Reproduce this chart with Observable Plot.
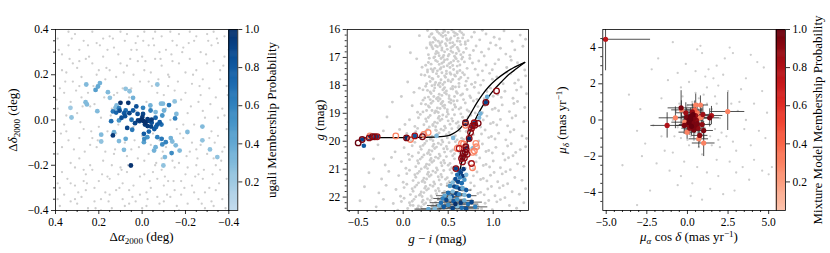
<!DOCTYPE html>
<html><head><meta charset="utf-8">
<script src="https://cdn.jsdelivr.net/npm/d3@7"></script>
<script src="https://cdn.jsdelivr.net/npm/@observablehq/plot@0.6"></script>
<style>
body{margin:0;background:#fff;}
#chart{position:relative;width:830px;height:253px;font-family:"Liberation Serif",serif;color:#000;overflow:hidden;}
#chart svg{position:absolute;left:0;top:0;font-family:"Liberation Serif",serif !important;}
#chart svg text{font-family:"Liberation Serif",serif;}
.lab{position:absolute;font-size:13px;white-space:nowrap;line-height:1;}
.hor{transform:translate(-50%,-50%);}
.rot{transform:translate(-50%,-50%) rotate(-90deg);}
.sb{font-size:0.7em;vertical-align:-0.3em;}
.sp{font-size:0.7em;vertical-align:0.45em;}
</style></head>
<body><div id="chart"></div>
<script>
// ---------------- DATA ----------------
// Panel 1: spatial distribution (Δα, Δδ in deg)
const p1Grey = [
0.39,0.36,0.37,0.29,0.35,0.21,0.38,0.14,0.33,0.08,0.36,-0.02,0.34,-0.09,0.39,-0.15,0.37,-0.23,0.33,-0.28,0.36,-0.33,0.38,-0.38,0.34,0.33,0.32,0.25,0.39,0.05,0.35,-0.05,0.33,-0.19,0.38,-0.3,0.36,0.12,0.34,0.39,0.37,-0.12,0.32,0.17,0.39,-0.35,0.35,0.02,0.33,-0.36,
0.31,0.38,0.29,0.31,0.26,0.27,0.28,0.19,0.25,0.12,0.3,0.03,0.27,-0.04,0.24,-0.11,0.29,-0.17,0.26,-0.24,0.31,-0.29,0.28,-0.34,0.25,-0.39,0.3,0.23,0.27,0.35,0.24,0.06,0.29,-0.08,0.31,-0.21,0.26,-0.31,0.28,0.1,0.3,-0.37,0.25,0.33,0.27,-0.27,0.29,0.15,0.24,-0.2,
0.23,0.39,0.21,0.34,0.18,0.28,0.2,0.22,0.17,0.18,0.22,0.07,0.19,0.01,0.16,-0.05,0.21,-0.12,0.18,-0.18,0.23,-0.22,0.2,-0.27,0.17,-0.32,0.22,-0.36,0.19,-0.4,0.16,0.31,0.23,0.25,0.2,-0.03,0.17,-0.14,0.22,-0.3,0.18,0.36,0.21,0.2,0.16,-0.25,0.23,-0.08,0.19,-0.35,
0.15,0.37,0.13,0.32,0.1,0.25,0.12,0.19,0.09,0.14,0.14,0.05,0.11,-0.02,0.08,-0.1,0.13,-0.15,0.1,-0.21,0.15,-0.26,0.12,-0.31,0.09,-0.35,0.14,-0.39,0.11,0.29,0.08,0.35,0.15,0.22,0.12,-0.06,0.09,-0.28,0.14,-0.2,0.1,0.39,0.13,0.11,0.08,-0.38,0.15,-0.33,0.11,-0.24,
0.07,0.38,0.05,0.31,0.02,0.26,0.04,0.2,0.01,0.17,0.06,0.1,0.03,0.04,0.0,-0.07,0.05,-0.13,0.02,-0.17,0.07,-0.23,0.04,-0.29,0.01,-0.33,0.06,-0.37,0.03,0.34,0.0,0.28,0.07,0.24,0.04,-0.03,0.01,-0.25,0.06,-0.31,0.02,0.37,0.05,0.14,0.0,-0.39,0.07,-0.16,0.03,-0.36,
-0.01,0.39,-0.03,0.33,-0.06,0.27,-0.04,0.21,-0.07,0.12,-0.02,0.08,-0.05,-0.06,-0.08,-0.09,-0.03,-0.15,-0.06,-0.2,-0.01,-0.24,-0.04,-0.3,-0.07,-0.34,-0.02,-0.38,-0.05,0.36,-0.08,0.3,-0.01,0.22,-0.04,-0.11,-0.07,-0.26,-0.02,-0.32,-0.06,0.39,-0.03,0.17,-0.08,-0.37,-0.01,-0.18,-0.05,-0.23,
-0.09,0.37,-0.11,0.31,-0.14,0.26,-0.12,0.2,-0.15,0.13,-0.1,0.11,-0.13,0.0,-0.16,-0.04,-0.11,-0.12,-0.14,-0.18,-0.09,-0.22,-0.12,-0.27,-0.15,-0.31,-0.1,-0.36,-0.13,0.39,-0.16,0.33,-0.09,0.24,-0.12,0.15,-0.15,-0.21,-0.1,-0.29,-0.14,0.35,-0.11,0.05,-0.16,-0.38,-0.09,-0.17,-0.13,-0.34,
-0.17,0.38,-0.19,0.32,-0.22,0.27,-0.2,0.21,-0.23,0.16,-0.18,0.09,-0.21,0.03,-0.24,-0.02,-0.19,-0.08,-0.22,-0.14,-0.17,-0.19,-0.2,-0.24,-0.23,-0.29,-0.18,-0.33,-0.21,-0.37,-0.24,0.35,-0.17,0.25,-0.2,0.12,-0.23,-0.1,-0.18,-0.27,-0.22,0.39,-0.19,-0.02,-0.24,-0.32,-0.17,-0.4,-0.21,-0.21,
-0.25,0.37,-0.27,0.3,-0.3,0.25,-0.28,0.18,-0.31,0.14,-0.26,0.08,-0.29,0.01,-0.32,-0.05,-0.27,-0.11,-0.3,-0.15,-0.25,-0.2,-0.28,-0.26,-0.31,-0.3,-0.26,-0.35,-0.29,-0.39,-0.32,0.33,-0.25,0.22,-0.28,0.04,-0.31,-0.08,-0.26,-0.24,-0.3,0.38,-0.27,0.11,-0.32,-0.36,-0.25,-0.13,-0.29,-0.32,
-0.33,0.39,-0.35,0.34,-0.38,0.28,-0.36,0.22,-0.39,0.15,-0.34,0.1,-0.37,0.05,-0.4,-0.01,-0.35,-0.07,-0.38,-0.12,-0.33,-0.17,-0.36,-0.22,-0.39,-0.26,-0.34,-0.31,-0.37,-0.35,-0.4,0.31,-0.33,0.26,-0.36,0.18,-0.39,-0.04,-0.34,-0.2,-0.38,0.37,-0.35,0.01,-0.4,-0.33,-0.33,-0.38,-0.37,-0.14,
0.385,0.31,0.355,0.17,0.375,-0.06,0.345,-0.26,0.395,0.09,0.325,0.36,0.305,0.13,0.285,-0.01,0.265,-0.14,0.295,-0.32,0.245,0.28,0.225,0.15,0.205,-0.09,0.185,-0.24,0.215,-0.39,0.165,0.23,0.145,0.02,0.125,-0.13,0.105,-0.3,0.135,0.36,
0.085,0.21,0.065,-0.2,0.045,-0.34,0.025,0.31,0.015,-0.12,-0.015,0.26,-0.035,-0.27,-0.055,0.33,-0.075,0.18,-0.095,-0.14,-0.115,-0.33,-0.135,0.29,-0.155,0.08,-0.175,-0.06,-0.195,-0.3,-0.215,0.34,-0.235,0.2,-0.255,-0.17,-0.275,-0.37,-0.295,0.29,
-0.315,0.07,-0.335,-0.1,-0.355,-0.28,-0.375,0.24,-0.395,0.11,-0.345,0.36,-0.365,-0.18,-0.325,-0.24,-0.385,-0.39,0.315,-0.13,0.335,0.27,0.275,0.06,0.255,-0.28,0.235,-0.05,0.195,0.33,0.175,0.1,0.155,-0.36,0.115,0.12,0.095,-0.22,0.055,0.27,
0.035,-0.09,-0.005,0.35,-0.025,-0.35,-0.045,0.15,-0.065,-0.19,-0.085,0.27,-0.105,-0.25,-0.125,0.19,-0.145,-0.27,-0.165,0.17,-0.185,0.3,-0.205,-0.16,-0.225,0.06,-0.245,-0.25,-0.265,0.15,-0.285,-0.22,-0.305,0.35,-0.38,0.02,0.39,-0.28,0.37,0.22,0.31,-0.35,0.29,0.26,0.27,-0.22
];
// ugali members: x, y, probability
const p1Members = [
0.258,0.157,0.3, 0.215,0.133,0.45, 0.204,0.148,0.4, 0.195,0.163,0.35, 0.158,0.123,0.3, 0.149,0.098,0.25, 0.076,0.138,0.25, 0.058,0.127,0.25, 0.042,0.098,0.35, 0.261,0.079,0.3,
0.255,0.069,0.3, 0.331,0.054,0.2, 0.326,0.011,0.25, 0.207,0.039,0.3, 0.1,0.076,1.0, 0.064,0.076,0.98, 0.118,0.064,0.3, 0.107,0.052,0.6, 0.135,0.038,0.65, 0.12,0.033,0.75,
0.104,0.041,0.85, 0.083,0.03,0.8, 0.143,-0.005,0.7, 0.107,-0.002,0.5, 0.095,0.01,0.85, 0.079,0.017,0.85, 0.059,0.03,0.9, 0.042,0.042,0.8, 0.027,0.06,0.85, 0.021,0.027,0.85,
0.012,-0.005,0.9, -0.004,0.054,0.6, -0.038,0.064,0.35, -0.039,0.042,0.6, 0.033,-0.014,0.9, 0.019,-0.002,0.95, -0.001,0.013,0.95, 0.004,0.001,1.0, -0.007,-0.005,1.0, -0.016,-0.011,1.0,
-0.025,0.004,0.95, -0.013,-0.02,0.95, -0.025,-0.027,0.95, -0.033,-0.004,0.9, -0.044,-0.012,0.85, -0.041,-0.029,0.9, -0.062,0.01,0.75, -0.07,-0.02,0.8, -0.081,-0.01,0.8, -0.089,-0.02,0.7,
-0.056,-0.04,0.8, -0.064,-0.031,0.75, -0.062,0.035,0.3, -0.087,0.072,0.3, -0.096,0.072,0.3, -0.124,0.066,0.65, -0.101,0.042,0.35, -0.15,0.082,0.25, -0.158,0.027,0.3, -0.152,0.007,0.6,
0.046,-0.043,0.65, -0.008,-0.061,0.8, -0.01,-0.083,0.55, -0.008,-0.098,0.45, -0.024,-0.076,0.5, 0.135,-0.068,0.95, 0.13,-0.054,0.35, 0.189,-0.065,0.3, 0.189,-0.095,0.25, 0.076,-0.083,0.4,
0.084,-0.132,0.3, 0.107,-0.093,0.3, -0.07,-0.076,0.6, -0.09,-0.083,0.65, -0.109,-0.098,0.6, -0.093,-0.108,0.55, -0.062,-0.12,0.35, -0.055,-0.135,0.35, -0.132,-0.08,0.35, -0.139,-0.095,0.3,
-0.155,-0.112,0.3, -0.173,-0.135,0.3, -0.136,-0.146,0.55, -0.105,-0.164,0.3, -0.098,-0.201,0.25, -0.209,-0.053,0.3, -0.278,-0.029,0.3, -0.278,-0.09,0.25, -0.313,-0.13,0.25, -0.347,-0.164,0.25,
0.052,-0.201,0.98, -0.031,-0.051,0.75, -0.044,0.002,0.95, -0.004,0.027,0.9, 0.049,0.001,0.7, 0.069,-0.035,0.9, 0.123,0.054,0.3, 0.076,0.042,0.7, -0.093,0.02,0.5, -0.07,0.157,0.25
];

// Panel 2: colour-magnitude diagram (g-i, g)
const p2Grey = [
0.27,16.04,0.34,16.29,0.31,16.17,0.43,16.44,0.38,16.08,0.47,16.21,0.52,16.36,0.41,16.49,0.58,16.13,0.45,16.02,0.61,16.31,0.36,16.38,0.5,16.11,0.55,16.47,0.67,16.19,0.72,16.4,0.63,16.06,0.29,16.26,0.48,16.33,0.57,16.23,0.79,16.1,0.85,16.37,0.69,16.45,0.92,16.16,1.01,16.28,1.12,16.05,1.21,16.42,1.3,16.2,0.4,16.14,0.54,16.01,0.33,16.46,0.6,16.41,0.76,16.27,0.97,16.48,1.07,16.34,0.44,16.25,0.65,16.12,0.88,16.03,0.18,16.22,1.36,16.35,
0.3,16.52,0.37,16.79,0.26,16.66,0.45,16.93,0.41,16.57,0.49,16.71,0.35,16.98,0.55,16.61,0.59,16.86,0.43,16.74,0.64,16.54,0.51,16.89,0.32,16.63,0.57,16.96,0.7,16.68,0.39,16.84,0.47,16.51,0.62,16.77,0.74,16.92,0.81,16.59,0.53,16.65,0.87,16.81,0.95,16.7,0.66,16.99,1.03,16.56,1.14,16.88,1.24,16.73,1.33,16.6,0.28,16.9,0.46,16.8,0.6,16.64,0.78,16.75,0.9,16.95,1.08,16.67,0.08,16.83,0.36,16.58,0.69,16.53,1.19,16.97,-0.15,16.62,
0.29,17.03,0.25,17.28,0.38,17.15,0.33,17.46,0.46,17.09,0.42,17.37,0.51,17.22,0.56,17.43,0.36,17.11,0.6,17.31,0.48,17.49,0.65,17.06,0.53,17.18,0.71,17.39,0.4,17.25,0.58,17.01,0.77,17.2,0.31,17.41,0.63,17.47,0.84,17.13,0.45,17.33,0.92,17.27,0.99,17.44,0.68,17.16,1.06,17.08,1.15,17.36,1.27,17.19,1.35,17.45,0.55,17.29,0.74,17.04,0.88,17.48,1.2,17.1,0.21,17.35,0.43,17.21,0.61,17.14,1.02,17.23,0.15,17.05,0.8,17.42,
0.27,17.52,0.33,17.77,0.24,17.64,0.41,17.91,0.37,17.58,0.47,17.71,0.44,17.97,0.53,17.6,0.5,17.84,0.58,17.67,0.62,17.93,0.3,17.86,0.66,17.55,0.55,17.79,0.72,17.74,0.39,17.68,0.76,17.96,0.6,17.51,0.83,17.63,0.46,17.89,0.89,17.82,0.96,17.57,0.7,17.85,1.04,17.7,1.11,17.94,1.19,17.59,1.28,17.81,1.36,17.66,0.35,17.98,0.52,17.55,0.64,17.72,0.8,17.9,0.99,17.78,1.15,17.53,0.2,17.62,0.05,17.88,0.42,17.8,0.68,17.62,0.86,17.99,1.24,17.92,
0.25,18.03,0.31,18.29,0.22,18.16,0.38,18.45,0.35,18.09,0.43,18.36,0.48,18.2,0.41,18.49,0.53,18.12,0.57,18.4,0.46,18.26,0.62,18.05,0.28,18.42,0.66,18.31,0.51,18.47,0.71,18.15,0.59,18.23,0.75,18.44,0.34,18.19,0.79,18.07,0.64,18.35,0.84,18.27,0.9,18.48,0.97,18.1,0.69,18.01,1.05,18.33,1.13,18.21,1.22,18.46,1.31,18.06,1.37,18.3,0.4,18.32,0.55,18.04,0.74,18.38,0.93,18.22,1.09,18.43,1.26,18.17,0.12,18.25,0.45,18.13,0.82,18.5,1.0,18.39,-0.02,18.4,0.18,18.1,
0.22,18.53,0.29,18.78,0.2,18.66,0.36,18.92,0.33,18.57,0.41,18.83,0.46,18.71,0.39,18.97,0.51,18.6,0.55,18.87,0.44,18.74,0.6,18.55,0.26,18.9,0.64,18.8,0.49,18.95,0.69,18.63,0.57,18.69,0.73,18.93,0.31,18.64,0.78,18.56,0.62,18.85,0.83,18.76,0.88,18.98,0.95,18.59,0.67,18.51,1.02,18.82,1.1,18.7,1.18,18.94,1.27,18.58,1.35,18.79,0.38,18.81,0.53,18.52,0.71,18.88,0.91,18.72,1.06,18.91,1.23,18.65,0.1,18.73,0.43,18.62,0.8,18.99,0.99,18.86,-0.12,18.6,0.16,18.96,0.58,18.77,
0.19,19.04,0.26,19.29,0.17,19.16,0.33,19.44,0.3,19.08,0.38,19.35,0.43,19.21,0.36,19.48,0.48,19.12,0.52,19.39,0.41,19.26,0.57,19.05,0.23,19.41,0.61,19.31,0.46,19.46,0.66,19.14,0.54,19.19,0.7,19.43,0.28,19.15,0.75,19.07,0.59,19.36,0.81,19.27,0.86,19.49,0.93,19.1,0.64,19.02,1.0,19.33,1.08,19.22,1.16,19.45,1.25,19.09,1.34,19.3,0.35,19.32,0.5,19.03,0.68,19.38,0.89,19.24,1.04,19.42,1.21,19.17,0.07,19.23,0.4,19.11,0.78,19.47,0.97,19.37,-0.18,19.13,0.13,19.47,0.55,19.28,0.02,19.4,
0.16,19.54,0.23,19.79,0.14,19.66,0.3,19.93,0.27,19.57,0.35,19.84,0.4,19.7,0.33,19.98,0.45,19.61,0.49,19.88,0.38,19.75,0.54,19.55,0.2,19.91,0.58,19.8,0.43,19.96,0.63,19.63,0.51,19.69,0.67,19.94,0.25,19.64,0.72,19.56,0.56,19.86,0.78,19.77,0.84,19.99,0.91,19.6,0.61,19.52,0.98,19.83,1.06,19.71,1.14,19.95,1.23,19.59,1.32,19.81,0.32,19.82,0.47,19.53,0.65,19.89,0.87,19.74,1.02,19.92,1.19,19.67,0.04,19.72,0.37,19.62,0.75,19.97,0.95,19.87,-0.22,19.63,0.09,19.98,0.52,19.78,-0.04,19.58,1.37,19.9,
0.13,20.04,0.2,20.29,0.1,20.16,0.27,20.44,0.24,20.08,0.32,20.35,0.37,20.21,0.3,20.48,0.42,20.12,0.46,20.39,0.35,20.26,0.51,20.05,0.17,20.41,0.55,20.31,0.4,20.46,0.6,20.14,0.48,20.19,0.64,20.43,0.22,20.15,0.69,20.07,0.53,20.36,0.75,20.27,0.81,20.49,0.88,20.1,0.58,20.02,0.95,20.33,1.03,20.22,1.11,20.45,1.2,20.09,1.3,20.3,0.29,20.32,0.44,20.03,0.62,20.38,0.84,20.24,0.99,20.42,1.16,20.17,0.01,20.23,0.34,20.11,0.72,20.47,0.92,20.37,-0.28,20.13,0.06,20.47,0.49,20.28,-0.09,20.38,1.36,20.2,1.25,20.4,
0.1,20.54,0.17,20.79,0.07,20.66,0.24,20.93,0.21,20.57,0.29,20.84,0.34,20.7,0.27,20.98,0.39,20.61,0.43,20.88,0.32,20.75,0.48,20.55,0.14,20.91,0.52,20.8,0.37,20.96,0.57,20.63,0.45,20.69,0.61,20.94,0.19,20.64,0.66,20.56,0.5,20.86,0.72,20.77,0.78,20.99,0.85,20.6,0.55,20.52,0.92,20.83,1.0,20.71,1.08,20.95,1.17,20.59,1.27,20.81,0.26,20.82,0.41,20.53,0.59,20.89,0.81,20.74,0.96,20.92,1.13,20.67,-0.02,20.73,0.31,20.62,0.69,20.97,0.89,20.87,-0.33,20.63,0.03,20.97,0.46,20.78,-0.13,20.58,1.34,20.9,1.22,20.52,-0.2,20.85,
0.07,21.04,0.14,21.29,0.04,21.16,0.21,21.44,0.18,21.08,0.26,21.35,0.31,21.21,0.24,21.48,0.36,21.12,0.4,21.39,0.29,21.26,0.45,21.05,0.11,21.41,0.49,21.31,0.34,21.46,0.54,21.14,0.42,21.19,0.58,21.43,0.16,21.15,0.63,21.07,0.47,21.36,0.69,21.27,0.75,21.49,0.82,21.1,0.52,21.02,0.89,21.33,0.97,21.22,1.05,21.45,1.14,21.09,1.24,21.3,0.23,21.32,0.38,21.03,0.56,21.38,0.78,21.24,0.93,21.42,1.1,21.17,-0.05,21.23,0.28,21.11,0.66,21.47,0.86,21.37,-0.38,21.13,0.0,21.47,0.43,21.28,-0.16,21.08,1.32,21.4,1.19,21.02,-0.24,21.35,1.01,21.12,
0.04,21.54,0.11,21.79,0.01,21.66,0.18,21.93,0.15,21.57,0.23,21.84,0.28,21.7,0.21,21.98,0.33,21.61,0.37,21.88,0.26,21.75,0.42,21.55,0.08,21.91,0.46,21.8,0.31,21.96,0.51,21.63,0.39,21.69,0.55,21.94,0.13,21.64,0.6,21.56,0.44,21.86,0.66,21.77,0.72,21.99,0.79,21.6,0.49,21.52,0.86,21.83,0.94,21.71,1.02,21.95,1.11,21.59,1.21,21.81,0.2,21.82,0.35,21.53,0.53,21.88,0.75,21.74,0.9,21.92,1.07,21.67,-0.08,21.73,0.25,21.62,0.63,21.97,0.83,21.87,-0.43,21.63,-0.03,21.97,0.4,21.78,-0.19,21.58,1.29,21.9,1.16,21.52,-0.27,21.85,0.98,21.62,1.36,21.7,
0.01,22.04,0.08,22.29,-0.02,22.16,0.15,22.44,0.12,22.08,0.2,22.35,0.25,22.21,0.18,22.46,0.3,22.12,0.34,22.39,0.23,22.26,0.39,22.05,0.05,22.41,0.43,22.31,0.28,22.45,0.48,22.14,0.36,22.19,0.52,22.43,0.1,22.15,0.57,22.07,0.41,22.36,0.63,22.27,0.69,22.47,0.76,22.1,0.46,22.02,0.83,22.33,0.91,22.22,0.99,22.45,1.08,22.09,1.18,22.3,0.17,22.32,0.32,22.03,0.5,22.38,0.72,22.24,0.87,22.42,1.04,22.17,-0.11,22.23,0.22,22.11,0.6,22.47,0.8,22.37,-0.48,22.13,-0.06,22.47,0.37,22.28,-0.22,22.08,1.26,22.4,1.13,22.02,-0.3,22.35,0.95,22.12,1.34,22.2,
0.32,16.15,0.39,16.42,0.46,16.06,0.53,16.3,0.6,16.18,0.35,16.33,0.42,16.2,0.49,16.39,0.56,16.09,0.63,16.43,0.3,16.47,0.52,16.48,0.66,16.3,0.44,16.12,0.37,16.02,
0.33,16.69,0.4,16.94,0.48,16.58,0.55,16.82,0.61,16.7,0.36,16.87,0.43,16.66,0.5,16.95,0.57,16.55,0.64,16.9,0.31,16.56,0.53,16.77,0.67,16.82,0.44,16.99,0.38,16.62,
0.28,17.18,0.35,17.39,0.42,17.04,0.49,17.3,0.56,17.12,0.31,17.24,0.38,17.48,0.45,17.16,0.52,17.36,0.59,17.05,0.27,17.45,0.49,17.07,0.63,17.27,0.41,17.42,0.34,17.01,
0.29,17.69,0.36,17.9,0.43,17.55,0.5,17.81,0.57,17.63,0.32,17.75,0.39,17.99,0.46,17.66,0.53,17.87,0.6,17.56,0.26,17.94,0.48,17.58,0.62,17.78,0.4,17.93,0.33,17.51,
0.27,18.18,0.34,18.4,0.41,18.05,0.48,18.31,0.55,18.13,0.3,18.24,0.37,18.48,0.44,18.16,0.51,18.37,0.58,18.06,0.24,18.45,0.46,18.08,0.6,18.28,0.39,18.43,0.32,18.01,
0.25,18.68,0.32,18.9,0.39,18.55,0.46,18.81,0.53,18.63,0.28,18.74,0.35,18.98,0.42,18.66,0.49,18.87,0.56,18.56,0.22,18.95,0.44,18.58,0.58,18.78,0.37,18.93,0.3,18.51,
0.25,19.2,0.33,19.4,0.44,19.06,0.5,19.27,0.62,19.45,0.72,19.13,0.29,19.49,0.39,19.18,0.22,19.7,0.31,19.9,0.42,19.57,0.48,19.77,0.6,19.95,0.7,19.65,0.26,19.99,0.36,19.6,
0.19,20.2,0.28,20.4,0.39,20.07,0.45,20.27,0.57,20.45,0.67,20.15,0.23,20.49,0.33,20.18,0.16,20.7,0.25,20.9,0.36,20.57,0.42,20.77,0.54,20.95,0.64,20.65,0.2,20.99,0.3,20.68,
0.13,21.2,0.22,21.4,0.33,21.07,0.39,21.27,0.51,21.45,0.61,21.15,0.17,21.49,0.27,21.18,0.1,21.7,0.19,21.9,0.3,21.57,0.36,21.77,0.48,21.95,0.58,21.65,0.14,21.99,0.24,21.68,
0.07,22.2,0.16,22.4,0.27,22.07,0.33,22.27,0.45,22.45,0.55,22.15,0.11,22.3,0.21,22.18
];
// isochrone branches (g-i, g)
const isoUpper = [-0.47,19.93, -0.42,19.88, -0.3,19.87, 0.0,19.87, 0.2,19.86, 0.35,19.85, 0.45,19.83, 0.52,19.78, 0.58,19.68, 0.63,19.55, 0.67,19.4, 0.71,19.22, 0.76,18.95, 0.82,18.62, 0.88,18.33, 0.95,18.05, 1.03,17.8, 1.12,17.58, 1.22,17.38, 1.35,17.18];
const isoLower = [0.62,21.3, 0.64,20.9, 0.67,20.5, 0.7,20.15, 0.73,19.8, 0.77,19.45, 0.82,19.1, 0.88,18.75, 0.94,18.45, 1.01,18.15, 1.09,17.88, 1.17,17.62, 1.26,17.4, 1.35,17.18];
// ugali members in CMD: g-i, g, probability, colour error
const p2Ugali = [
-0.437,20.16,0.8,0, -0.456,19.94,0.9,0, -0.378,19.88,0.95,0, -0.341,19.84,0.95,0, -0.315,19.84,0.9,0, -0.289,19.84,0.9,0, 0.037,19.88,1.0,0, 0.129,19.81,0.8,0, 0.37,19.81,0.3,0, 0.555,19.88,0.3,0,
0.692,19.34,1.0,0, 0.733,19.9,1.0,0, 0.789,19.34,0.8,0, 0.844,19.16,0.3,0, 0.859,19.01,0.35,0, 0.918,18.61,0.9,0, 0.933,18.41,0.4,0, 0.777,20.24,0.3,0, 0.696,20.2,0.95,0, 0.585,20.98,0.9,0, 0.77,19.45,0.9,0,
0.62,21.05,0.8,0, 0.64,21.12,0.9,0, 0.6,21.2,0.7,0, 0.66,21.25,0.95,0, 0.63,21.3,0.6,0, 0.58,21.35,0.85,0, 0.68,21.38,0.5,0, 0.61,21.45,0.9,0.03, 0.65,21.5,0.7,0.03, 0.55,21.48,0.3,0.03, 0.7,21.2,0.3,0, 0.67,21.0,0.95,0,
0.52,21.6,0.5,0.04, 0.57,21.62,0.9,0.04, 0.6,21.65,0.7,0.05, 0.63,21.7,0.95,0.05, 0.66,21.68,0.4,0.05, 0.7,21.75,0.8,0.06, 0.55,21.8,0.3,0.07, 0.5,21.85,0.7,0.07, 0.59,21.88,0.9,0.08, 0.62,21.9,0.6,0.08, 0.68,21.92,0.3,0.08, 0.73,21.95,0.8,0.09, 0.46,21.95,0.4,0.09, 0.54,21.98,0.85,0.09,
0.44,22.05,0.6,0.1, 0.48,22.1,0.9,0.1, 0.52,22.02,0.3,0.1, 0.56,22.15,0.8,0.11, 0.6,22.08,0.5,0.1, 0.64,22.2,0.95,0.12, 0.68,22.12,0.4,0.11, 0.72,22.25,0.7,0.12, 0.76,22.18,0.9,0.12, 0.4,22.3,0.35,0.13, 0.45,22.35,0.8,0.14, 0.5,22.28,0.55,0.13, 0.55,22.4,0.9,0.15, 0.6,22.33,0.3,0.14, 0.65,22.38,0.7,0.15, 0.7,22.42,0.85,0.15, 0.35,22.42,0.3,0.15, 0.28,22.43,0.4,0.15, 0.8,22.35,0.6,0.14, 0.58,22.25,1.0,0.12, 0.42,22.2,0.7,0.12
];
// mixture-model members in CMD: g-i, g, probability
const p2Mixture = [
-0.5,20.06,1.0, -0.456,19.94,0.95, -0.37,19.81,0.25, -0.378,19.88,0.9, -0.341,19.84,0.95, -0.315,19.84,0.9, -0.289,19.84,0.85, -0.082,19.81,0.3, 0.037,19.88,0.95, 0.081,19.94,0.3, 0.129,19.81,0.85, 0.214,19.84,0.95, 0.229,19.76,0.3, 0.277,19.69,0.25,
0.692,19.34,1.0, 0.692,19.43,0.3, 0.733,19.9,0.9, 0.748,19.69,0.9, 0.759,19.54,0.85, 0.77,19.45,0.9, 0.796,19.43,0.9, 0.833,19.36,0.95, 0.789,19.34,0.85, 0.918,18.61,0.95, 1.037,18.2,0.9, 0.696,20.2,0.9,
0.648,20.08,0.3, 0.6,20.26,0.3, 0.622,20.26,0.8, 0.67,20.1,0.3, 0.807,20.08,0.25, 0.814,20.2,0.25, 0.79,20.35,0.3, 0.77,20.4,0.25, 0.666,20.44,0.95, 0.689,20.4,0.9, 0.711,20.47,0.85, 0.648,20.62,0.9, 0.66,20.55,0.95, 0.659,20.74,0.9, 0.759,20.8,0.85, 0.77,20.95,0.3, 0.585,20.98,0.9, 0.7,20.3,0.95, 0.68,20.6,0.9
];

// Panel 3: proper motions (mas/yr)
const p3Grey = [
0.2,0.5,0.6,0.9,1.0,0.4,-0.3,0.2,0.9,-0.8,1.3,-0.2,0.4,-1.1,-0.1,-0.6,1.5,0.6,0.7,1.2,-0.6,-0.4,1.1,-1.3,0.3,1.0,1.7,-0.5,0.0,0.8,-0.4,-1.0,0.8,-0.3,1.2,0.9,0.5,-0.7,1.6,0.2,-0.2,-0.2,0.9,0.6,0.1,-1.4,1.4,-0.9,-0.7,0.5,0.6,0.3,1.8,0.9,0.4,-0.4,1.0,1.4,-0.5,0.9,1.9,-1.1,0.2,-0.9,0.7,-1.5,1.3,0.3,-0.8,-0.9,0.5,1.5,1.5,-1.4,0.0,-1.1,2.0,0.1,0.8,0.0,-0.3,1.3,1.1,-0.6,0.3,0.2,1.7,1.3,-0.1,0.4,0.9,-1.9,2.1,-0.7,0.6,-1.1,1.2,1.8,-0.9,0.0,
-0.9,4.3,0.6,3.9,0.9,3.7,-0.6,2.6,0.1,2.1,0.5,2.7,1.3,2.8,1.8,3.0,2.3,3.4,2.8,3.7,3.6,2.3,4.3,3.2,4.7,2.9,3.3,1.7,2.5,1.6,1.9,1.9,2.7,0.9,3.1,0.5,3.5,-0.5,4.4,-0.6,4.8,-1.0,3.9,-1.4,3.0,-1.7,2.6,-2.3,3.4,-2.6,4.1,-2.2,4.6,-2.8,5.0,-3.0,5.2,-2.6,3.8,-3.3,2.9,-3.9,2.2,-4.1,1.4,-3.8,0.9,-4.4,0.3,-3.5,-0.4,-3.1,-1.1,-2.8,-1.9,-2.4,-2.6,-1.3,-3.1,-0.6,-4.0,-2.5,-3.1,-4.7,-2.3,-3.9,-1.4,-1.7,-2.1,-0.3,-2.9,0.6,-1.6,1.2,-1.2,2.2,-2.2,2.8,-0.1,3.1,1.6,2.3,2.2,2.5,3.6,0.0,4.1,0.9,2.4,-0.9,1.8,-2.2,0.6,-2.6,-0.2,-2.3,-0.9,-1.8,-1.6,-0.9,2.8,-1.2,2.0,-1.5,3.2,1.0,4.6,1.6,1.2,-2.9,-0.6,-3.6,0.2,-4.2,1.9,-3.1,3.0,-2.9,-2.8,-2.0,-3.6,1.4,-1.8,3.4,0.8,4.1,2.6,4.0,3.9,3.6,4.9,0.4,-0.4,1.8,1.1,2.4
];
// mixture members: pmra, pmdec, probability, pmra error, pmdec error
const p3Members = [
-5.04,4.46,0.75,2.77,1.74, -0.39,0.67,0.95,0.8,0.95, -0.37,0.56,0.3,0.6,0.5, -1.25,-0.3,0.8,1.0,0.7, -0.74,0.12,0.3,1.0,0.6, 0.51,0.83,0.3,0.5,0.6, 0.8,0.83,0.3,0.5,0.5, 1.48,0.25,0.8,0.7,0.5,
1.37,0.12,0.95,0.6,0.5, 2.48,0.47,0.3,1.05,1.05, -0.02,-0.67,0.3,0.5,0.4, 0.7,-1.04,0.3,0.6,0.5, 0.76,-0.85,0.9,0.5,0.4, 1.0,-1.27,0.3,0.7,0.75, 1.0,-0.58,0.95,0.6,0.5, -0.16,-0.12,0.3,0.8,0.5,
0.1,0.0,1.0,0.4,0.4, 0.2,0.2,1.0,0.5,0.45, 0.3,-0.1,0.95,0.45,0.5, 0.0,-0.25,0.9,0.5,0.4, 0.4,0.1,0.95,0.4,0.4, 0.25,-0.35,1.0,0.5,0.5, 0.45,-0.3,0.95,0.4,0.45, 0.15,-0.45,0.9,0.5,0.4,
0.35,0.3,1.0,0.5,0.5, 0.55,0.0,0.9,0.45,0.4, 0.6,-0.2,0.95,0.5,0.4, -0.05,0.15,0.95,0.6,0.5, 0.5,0.25,0.85,0.5,0.5, 0.7,0.1,0.3,0.6,0.5, 0.1,-0.15,1.0,0.4,0.4, 0.3,0.45,0.9,0.5,0.45,
0.65,-0.45,0.9,0.5,0.5, 0.9,-0.25,0.9,0.6,0.5, 0.85,0.15,0.3,0.6,0.5, -0.2,-0.3,0.95,0.5,0.5, 0.4,-0.55,0.95,0.5,0.5, 0.2,0.05,1.0,0.4,0.4, 0.45,0.55,0.4,0.5,0.5, 0.95,0.3,0.85,0.6,0.5, -0.1,0.4,0.85,0.6,0.55, 0.6,0.4,0.3,0.5,0.5
];

// Tick values
const p1Major = [-0.4,-0.2,0,0.2,0.4];
const p1Minor = [-0.35,-0.3,-0.25,-0.15,-0.1,-0.05,0.05,0.1,0.15,0.25,0.3,0.35];
const p2XMajor = [-0.5,0,0.5,1.0];
const p2XMinor = [-0.6,-0.4,-0.3,-0.2,-0.1,0.1,0.2,0.3,0.4,0.6,0.7,0.8,0.9,1.1,1.2,1.3];
const p2YMajor = [16,17,18,19,20,21,22];
const p2YMinor = [16.2,16.4,16.6,16.8,17.2,17.4,17.6,17.8,18.2,18.4,18.6,18.8,19.2,19.4,19.6,19.8,20.2,20.4,20.6,20.8,21.2,21.4,21.6,21.8,22.2,22.4];
const p3XMajor = [-5,-2.5,0,2.5,5];
const p3XMinor = [-4.5,-4,-3.5,-3,-2,-1.5,-1,-0.5,0.5,1,1.5,2,3,3.5,4,4.5];
const p3YMajor = [-4,-2,0,2,4];
const p3YMinor = [-4.5,-3.5,-3,-2.5,-1.5,-1,-0.5,0.5,1,1.5,2.5,3,3.5,4.5];
const cbTicks = [0.2,0.4,0.6,0.8,1.0];
const probDomain = [0.05, 1.0];

// ---------------- HELPERS ----------------
const W = 830, H = 253;
const FONT = '"Liberation Serif", serif';
const chart = document.getElementById("chart");
const blueInterp = t => d3.interpolateBlues(0.25 + 0.75 * t);
const redInterp = t => d3.interpolateReds(0.22 + 0.78 * t);
const f1 = d3.format(".1f"), fd = d3.format("d");
const greyCol = "#cdcdcd";

const chunk = (flat, n, keys) => {
  const out = [];
  for (let i = 0; i < flat.length; i += n) {
    const o = {}; keys.forEach((k, j) => o[k] = flat[i + j]); out.push(o);
  }
  return out;
};

function place(box, opts) {
  const svg = Plot.plot({
    width: W, height: H,
    marginLeft: box.x0, marginRight: W - box.x1, marginTop: box.y0, marginBottom: H - box.y1,
    style: {fontFamily: FONT, fontSize: "11.5px", color: "#000", background: "transparent", overflow: "visible"},
    ...opts
  });
  chart.appendChild(svg);
  return svg;
}
function axes(xMaj, xMin, xf, yMaj, yMin, yf) {
  return [
    Plot.axisX(xMin, {tickSize: 2, strokeWidth: 0.8, tickFormat: () => "", fill: "none", label: null}),
    Plot.axisX(xMaj, {tickSize: 4, strokeWidth: 0.8, tickPadding: 3, tickFormat: xf, label: null}),
    Plot.axisY(yMin, {tickSize: 2, strokeWidth: 0.8, tickFormat: () => "", fill: "none", label: null}),
    Plot.axisY(yMaj, {tickSize: 4, strokeWidth: 0.8, tickPadding: 3, tickFormat: yf, label: null})
  ];
}
function colorbar(box, interp) {
  const step = 0.005;
  const steps = d3.range(probDomain[0], probDomain[1], step);
  place(box, {
    x: {domain: [0, 1], axis: null},
    y: {domain: probDomain, label: null},
    color: {type: "linear", domain: probDomain, interpolate: interp},
    marks: [
      Plot.rect(steps, {x1: () => 0, x2: () => 1, y1: d => d, y2: d => Math.min(d + step * 1.6, probDomain[1]), fill: d => d + step / 2}),
      Plot.frame({stroke: "#000", strokeWidth: 0.8}),
      Plot.axisY(cbTicks, {anchor: "right", tickSize: 4, strokeWidth: 0.8, tickPadding: 3, tickFormat: f1, label: null})
    ]
  });
}
function label(html, cx, cy, rotated) {
  const d = document.createElement("div");
  d.className = "lab " + (rotated ? "rot" : "hor");
  d.style.left = cx + "px"; d.style.top = cy + "px";
  d.innerHTML = html;
  chart.appendChild(d);
}

// ---------------- PANEL 1 ----------------
const B1 = {x0: 55, x1: 228.3, y0: 29, y1: 210};
const m1 = chunk(p1Members, 3, ["x", "y", "p"]).sort((a, b) => a.p - b.p);
place(B1, {
  x: {domain: [0.4, -0.4], label: null},
  y: {domain: [-0.4, 0.4], label: null},
  color: {type: "linear", domain: probDomain, interpolate: blueInterp},
  marks: [
    Plot.dot(chunk(p1Grey, 2, ["x", "y"]), {x: "x", y: "y", r: 1.15, fill: greyCol, clip: true}),
    Plot.dot(m1, {x: "x", y: "y", r: 2.4, fill: "p", clip: true}),
    Plot.frame({stroke: "#000", strokeWidth: 0.8}),
    ...axes(p1Major, p1Minor, f1, p1Major, p1Minor, f1)
  ]
});
colorbar({x0: 228.3, x1: 237.3, y0: 29, y1: 210}, blueInterp);

// ---------------- PANEL 2 ----------------
const B2 = {x0: 346.7, x1: 528, y0: 29, y1: 210};
const p2x = {domain: [-0.622, 1.392], label: null};
const p2y = {domain: [22.48, 16], label: null};
const u2 = chunk(p2Ugali, 4, ["x", "y", "p", "e"]);
place(B2, {
  x: p2x, y: p2y,
  color: {type: "linear", domain: probDomain, interpolate: blueInterp},
  marks: [
    Plot.dot(chunk(p2Grey, 2, ["x", "y"]), {x: "x", y: "y", r: 1.45, fill: greyCol, clip: true}),
    Plot.line(chunk(isoUpper, 2, ["x", "y"]), {x: "x", y: "y", stroke: "#000", strokeWidth: 1.3, curve: "catmull-rom", clip: true}),
    Plot.line(chunk(isoLower, 2, ["x", "y"]), {x: "x", y: "y", stroke: "#000", strokeWidth: 1.3, curve: "catmull-rom", clip: true}),
    Plot.ruleY(u2.filter(d => d.e > 0), {y: "y", x1: d => d.x - d.e, x2: d => d.x + d.e, stroke: "#333", strokeOpacity: 0.8, strokeWidth: 1, clip: true}),
    Plot.dot(u2, {x: "x", y: "y", r: 2.3, fill: "p", clip: true}),
    Plot.frame({stroke: "#000", strokeWidth: 0.8}),
    ...axes(p2XMajor, p2XMinor, f1, p2YMajor, p2YMinor, fd)
  ]
});
place(B2, {
  x: {...p2x, axis: null}, y: {...p2y, axis: null},
  color: {type: "linear", domain: probDomain, interpolate: redInterp},
  marks: [
    Plot.dot(chunk(p2Mixture, 3, ["x", "y", "p"]).sort((a, b) => a.p - b.p), {x: "x", y: "y", r: 2.8, stroke: "p", strokeWidth: 1.3, fill: "none", clip: true})
  ]
});

// ---------------- PANEL 3 ----------------
const B3 = {x0: 602.3, x1: 775.8, y0: 29, y1: 210};
const m3 = chunk(p3Members, 5, ["x", "y", "p", "ex", "ey"]).sort((a, b) => a.p - b.p);
place(B3, {
  x: {domain: [-5.21, 5.47], label: null},
  y: {domain: [-5, 5], label: null},
  color: {type: "linear", domain: probDomain, interpolate: redInterp},
  marks: [
    Plot.dot(chunk(p3Grey, 2, ["x", "y"]), {x: "x", y: "y", r: 1.15, fill: greyCol, clip: true}),
    Plot.ruleY(m3, {y: "y", x1: d => d.x - d.ex, x2: d => d.x + d.ex, stroke: "#333", strokeOpacity: 0.85, strokeWidth: 1, clip: true}),
    Plot.ruleX(m3, {x: "x", y1: d => d.y - d.ey, y2: d => d.y + d.ey, stroke: "#333", strokeOpacity: 0.85, strokeWidth: 1, clip: true}),
    Plot.dot(m3, {x: "x", y: "y", r: 2.6, fill: "p", clip: true}),
    Plot.frame({stroke: "#000", strokeWidth: 0.8}),
    ...axes(p3XMajor, p3XMinor, f1, p3YMajor, p3YMinor, fd)
  ]
});
colorbar({x0: 775.8, x1: 785, y0: 29, y1: 210}, redInterp);

// ---------------- TEXT LABELS ----------------
label('Δ<i>α</i><span class="sb">2000</span> (deg)', 141.6, 238, false);
label('Δ<i>δ</i><span class="sb">2000</span> (deg)', 14, 119.5, true);
label('ugali Membership Probability', 271, 119.5, true);
label('<i>g</i> − <i>i</i> (mag)', 437.3, 238, false);
label('<i>g</i> (mag)', 319, 119.5, true);
label('<i>μ<span class="sb">α</span></i> cos <i>δ</i> (mas yr<span class="sp">−1</span>)', 689, 238, false);
label('<i>μ<span class="sb">δ</span></i> (mas yr<span class="sp">−1</span>)', 563, 119.5, true);
label('Mixture Model Membership Probability', 817, 119.5, true);
</script></body></html>
